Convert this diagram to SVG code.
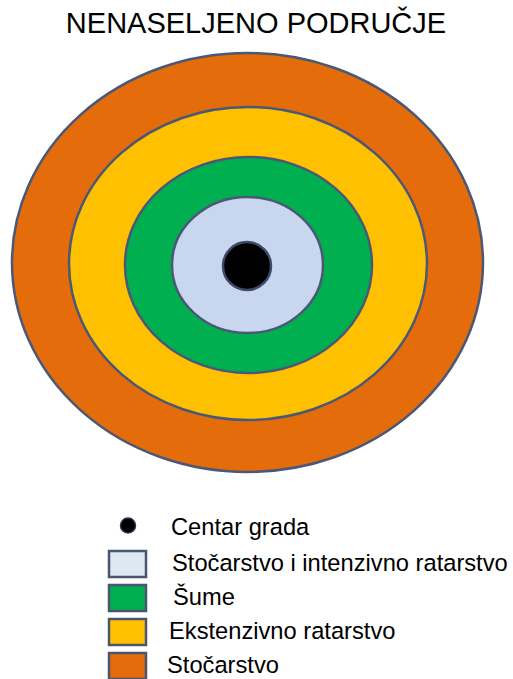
<svg xmlns="http://www.w3.org/2000/svg" width="513" height="679" viewBox="0 0 513 679">
<style>
.ring{stroke:#4a5877;stroke-width:2.5}
.key{stroke:#4a5570;stroke-width:2.5}
text{font-family:"Liberation Sans",Arial,sans-serif;fill:#000}
.title{font-size:29px}
.lbl{font-size:23.7px}
</style>
<rect width="513" height="679" fill="#fff"/>
<text class="title" x="256" y="33" text-anchor="middle">NENASELJENO PODRUČJE</text>
<g id="stocarstvo-zone"><ellipse class="ring" cx="247.5" cy="262.5" rx="235.5" ry="209.5" fill="#E46C0A"/></g>
<g id="ekstenzivno-zone"><ellipse class="ring" cx="248" cy="263.5" rx="179" ry="156.5" fill="#FFC000"/></g>
<g id="sume-zone"><ellipse class="ring" cx="248.5" cy="265" rx="123.5" ry="108" fill="#00B050"/></g>
<g id="intenzivno-zone"><ellipse class="ring" cx="247.5" cy="265" rx="75.5" ry="68" fill="#C8D6EE"/></g>
<g id="centar"><circle cx="247" cy="266" r="24" fill="#000" stroke="#3d4a6a" stroke-width="2.5"/></g>
<g id="connectors"></g>
<g id="legend">
<circle cx="128" cy="525.5" r="7.5" fill="#000" stroke="#2a3450" stroke-width="1.5"/>
<text class="lbl" x="171" y="535">Centar grada</text>
<rect class="key" x="109" y="551" width="37" height="26" fill="#DDE8F3"/>
<text class="lbl" x="172" y="571">Stočarstvo i intenzivno ratarstvo</text>
<rect class="key" x="109" y="585" width="37" height="26" fill="#00B050"/>
<text class="lbl" x="173" y="605">Šume</text>
<rect class="key" x="109" y="619" width="37" height="26" fill="#FFC000"/>
<text class="lbl" x="169" y="639">Ekstenzivno ratarstvo</text>
<rect class="key" x="109" y="653" width="37" height="26" fill="#E46C0A"/>
<text class="lbl" x="167" y="673">Stočarstvo</text>
</g>
</svg>
